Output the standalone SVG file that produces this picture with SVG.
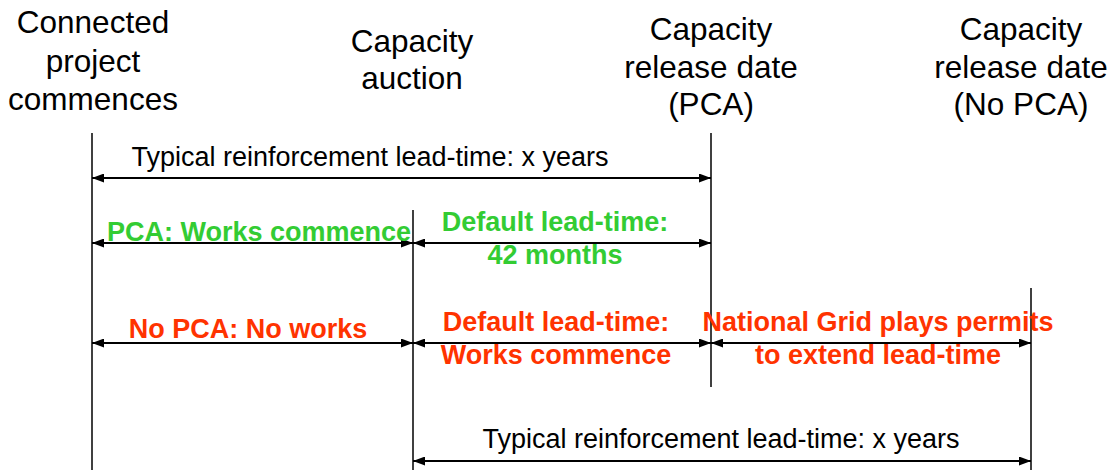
<svg xmlns="http://www.w3.org/2000/svg" width="1113" height="470" viewBox="0 0 1113 470">
<style>
.h{font-family:"Liberation Sans",Arial,sans-serif;font-size:31.5px;fill:#000;text-anchor:middle}
.m{font-family:"Liberation Sans",Arial,sans-serif;font-size:27px;fill:#000;text-anchor:middle}
.g{font-family:"Liberation Sans",Arial,sans-serif;font-size:27px;font-weight:bold;fill:#33cc33;text-anchor:middle}
.r{font-family:"Liberation Sans",Arial,sans-serif;font-size:27px;font-weight:bold;fill:#ff3300;text-anchor:middle}
.v{stroke:#000;stroke-width:1.5;fill:none}
.a{stroke:#000;stroke-width:2;fill:none;marker-start:url(#ah);marker-end:url(#ah)}
</style>
<defs>
<marker id="ah" viewBox="0 0 12 9" refX="12" refY="4.5" markerWidth="12" markerHeight="9" markerUnits="userSpaceOnUse" orient="auto-start-reverse">
<path d="M0,0 L12,4.5 L0,9 z" fill="#000"/>
</marker>
</defs>
<rect width="1113" height="470" fill="#fff"/>
<g id="milestone-project">
<line class="v" x1="92" y1="133" x2="92" y2="470"/>
<text class="h" x="93" y="33">Connected</text>
<text class="h" x="93" y="72">project</text>
<text class="h" x="93" y="110">commences</text>
</g>
<g id="milestone-auction">
<line class="v" x1="413" y1="210" x2="413" y2="470"/>
<text class="h" x="412" y="52">Capacity</text>
<text class="h" x="412" y="89">auction</text>
</g>
<g id="milestone-release-pca">
<line class="v" x1="711" y1="133" x2="711" y2="387"/>
<text class="h" x="711" y="40">Capacity</text>
<text class="h" x="711" y="78">release date</text>
<text class="h" x="711" y="115">(PCA)</text>
</g>
<g id="milestone-release-nopca">
<line class="v" x1="1031" y1="288" x2="1031" y2="470"/>
<text class="h" x="1021" y="40">Capacity</text>
<text class="h" x="1021" y="78">release date</text>
<text class="h" x="1021" y="115">(No PCA)</text>
</g>
<g id="connectors">
<line class="a" x1="92" y1="178" x2="711" y2="178"/>
<line class="a" x1="92" y1="243" x2="413" y2="243"/>
<line class="a" x1="413" y1="243" x2="711" y2="243"/>
<line class="a" x1="92" y1="343" x2="413" y2="343"/>
<line class="a" x1="413" y1="343" x2="711" y2="343"/>
<line class="a" x1="711" y1="343" x2="1031" y2="343"/>
<line class="a" x1="413" y1="461" x2="1031" y2="461"/>
</g>
<g id="labels">
<text class="m" x="370" y="166">Typical reinforcement lead-time: x years</text>
<text class="g" x="259" y="241">PCA: Works commence</text>
<text class="g" x="555" y="231">Default lead-time:</text>
<text class="g" x="555" y="264">42 months</text>
<text class="r" x="248" y="338">No PCA: No works</text>
<text class="r" x="556" y="331">Default lead-time:</text>
<text class="r" x="556" y="364">Works commence</text>
<text class="r" x="878" y="331">National Grid plays permits</text>
<text class="r" x="878" y="364">to extend lead-time</text>
<text class="m" x="721" y="448">Typical reinforcement lead-time: x years</text>
</g>
</svg>
